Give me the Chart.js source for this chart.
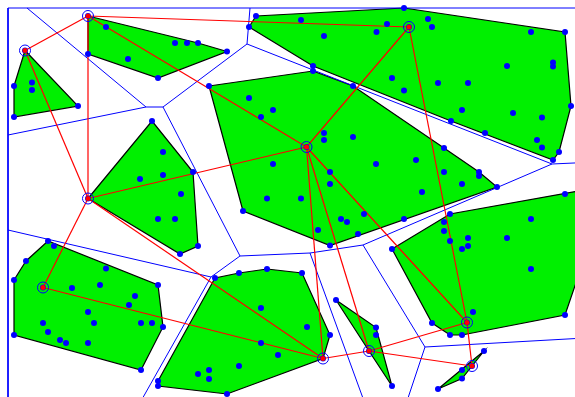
<!DOCTYPE html>
<html>
<head>
<meta charset="utf-8">
<script src="https://cdn.jsdelivr.net/npm/chart.js@4.4.0/dist/chart.umd.min.js"></script>
<style>
  html, body { margin: 0; padding: 0; background: #fff; }
  #chart { display: block; }
</style>
</head>
<body>
<canvas id="chart" width="575" height="397"></canvas>
<script>
// cluster centres (ringed points), in picture units
const seedNames = ['A', 'B', 'C', 'D', 'E', 'F', 'G', 'H', 'I', 'J'];
const seedX = [88, 25, 88, 306.5, 409, 43, 323, 369, 467, 472];
const seedY = [16, 50.5, 198.5, 147, 27, 287.5, 358.5, 351, 322.5, 366];

// points of each cluster
const ptsA = [[88,16],[106,27],[175,43],[187,43],[198,43],[227,51.5],[158,78],[128,59],[88,54]];
const ptsB = [[25,50.5],[32,82.5],[32,90],[14,86],[14,117],[78,106]];
const ptsC = [[152,121],[163,152],[140,179],[163,175],[181,194],[193,172],[88,198.5],[158,219],[175,219],[198,246],[180,254]];
const ptsD = [[209,86],[313,71],[353,86],[249,98],[273,110],[261,117],[324,133],[324,140],[353,137],[306.5,147],
  [273,164],[330,172],[330,184],[376,164],[416,160],[444,148],[444,172],[479,172],[479,176],[462,184],[422,192],
  [497,187],[267,198.5],[301,198.5],[243,211],[341,219],[347,222],[364,214],[318,230],[358,234],[404,219],[330,245.5]];
const ptsE = [[249,27],[256,16],[301,20],[324,36],[376.5,32],[387,24],[404,8],[428,19],[432,27],[409,27],[531,32],
  [565,32],[392,78],[404,90.5],[438,83],[468,83],[462,110],[507,66],[553,62.5],[553,66.5],[571,106],[513,113],
  [542,117.5],[537,140],[542,147.5],[559,152],[553,160],[485,133],[451,121],[313,66]];
const ptsF = [[48,241],[54,246],[26,261],[14,280],[14,335],[141,370],[163,327],[158,285],[106,268.5],[72,288],
  [100,285],[135,296],[129,305],[88,312],[43,323],[48,332],[94,323],[141,323],[152,323],[60,340],[66,343],[88,343],[43,287.5]];
const ptsG = [[215,278],[239,273],[267,269],[302,273],[330,335],[323,358.5],[227,394],[158,386],[158,381],
  [261,308],[307,327],[261,343],[278,355],[239,366],[198,374],[209,370],[209,379]];
const ptsH = [[336,300],[376,327.5],[376,335],[392,386],[369,351]];
const ptsI = [[450,214],[444,222],[444,231],[450,241],[468,238],[468,246],[462,249],[507,238],[531,219],[531,269],
  [392,249],[473,312],[432,323],[450,335],[462,335],[565,315],[467,322.5],[565,194],[578,191],[578,277]];
const ptsJ = [[484,351],[462,370],[462,378.5],[438,389],[472,366]];
const clusterPoints = [ptsA, ptsB, ptsC, ptsD, ptsE, ptsF, ptsG, ptsH, ptsI, ptsJ];

// links between cluster centres (index pairs)
const links = [[0,1],[0,4],[0,3],[0,2],[1,2],[2,3],[2,5],[2,6],[5,6],[3,4],
  [3,6],[3,7],[3,8],[4,8],[6,7],[7,8],[7,9],[8,9]];

// boundary lines (polylines)
const cellEdges = [
  [[8,8],[585,8]],
  [[8,8],[8,405]],
  [[27,8],[146,107]],
  [[8,135],[146,107],[163,107]],
  [[163,107],[247,44]],
  [[250,8],[247,44],[552,164],[585,162.5]],
  [[163,107],[240,256]],
  [[8,230],[211,277],[240,256],[310,253],[363,245],[552,164]],
  [[211,277],[141,401]],
  [[310,253],[364,401]],
  [[363,245],[425,347],[407,401]],
  [[425,347],[585,338]]
];

const xy = p => ({ x: p[0], y: p[1] });

function hull(pts) {
  const p = pts.slice().sort((a, b) => a[0] - b[0] || a[1] - b[1]);
  const cross = (o, a, b) => (a[0] - o[0]) * (b[1] - o[1]) - (a[1] - o[1]) * (b[0] - o[0]);
  const lower = [], upper = [];
  for (const q of p) {
    while (lower.length >= 2 && cross(lower[lower.length - 2], lower[lower.length - 1], q) <= 0) lower.pop();
    lower.push(q);
  }
  for (let i = p.length - 1; i >= 0; i--) {
    const q = p[i];
    while (upper.length >= 2 && cross(upper[upper.length - 2], upper[upper.length - 1], q) <= 0) upper.pop();
    upper.push(q);
  }
  upper.pop(); lower.pop();
  const h = lower.concat(upper);
  h.push(h[0]);
  return h;
}

const datasets = [];

// green hulls
clusterPoints.forEach(pts => {
  datasets.push({
    type: 'line',
    data: hull(pts).map(xy),
    borderColor: '#000000',
    borderWidth: 1.2,
    backgroundColor: '#00f000',
    fill: 'shape',
    pointRadius: 0,
    tension: 0,
    order: 50
  });
});

// blue cell boundaries
cellEdges.forEach(line => {
  datasets.push({
    type: 'line',
    data: line.map(xy),
    borderColor: '#0000ff',
    borderWidth: 1,
    fill: false,
    pointRadius: 0,
    tension: 0,
    order: 40
  });
});

// red links
links.forEach(([a, b]) => {
  datasets.push({
    type: 'line',
    data: [{ x: seedX[a], y: seedY[a] }, { x: seedX[b], y: seedY[b] }],
    borderColor: '#ff0000',
    borderWidth: 1.2,
    fill: false,
    pointRadius: 0,
    order: 30
  });
});

// blue points
datasets.push({
  type: 'scatter',
  data: clusterPoints.flat().map(xy),
  backgroundColor: '#0000ff',
  borderWidth: 0,
  pointRadius: 3,
  order: 20
});

// rings and red centres
const seeds = seedX.map((x, i) => ({ x, y: seedY[i] }));
datasets.push({
  type: 'scatter',
  data: seeds,
  backgroundColor: '#ff0000',
  borderWidth: 0,
  pointRadius: 2.5,
  order: 10
});
datasets.push({
  type: 'scatter',
  data: seeds,
  backgroundColor: 'rgba(0,0,0,0)',
  borderColor: '#0000ff',
  borderWidth: 1,
  pointRadius: 5.5,
  order: 5
});

new Chart(document.getElementById('chart'), {
  type: 'scatter',
  data: { datasets },
  options: {
    responsive: false,
    animation: false,
    layout: { padding: 0, autoPadding: false },
    plugins: { legend: { display: false }, tooltip: { enabled: false } },
    scales: {
      x: { type: 'linear', min: 0, max: 575, display: false },
      y: { type: 'linear', min: 0, max: 397, reverse: true, display: false }
    }
  }
});
</script>
</body>
</html>
